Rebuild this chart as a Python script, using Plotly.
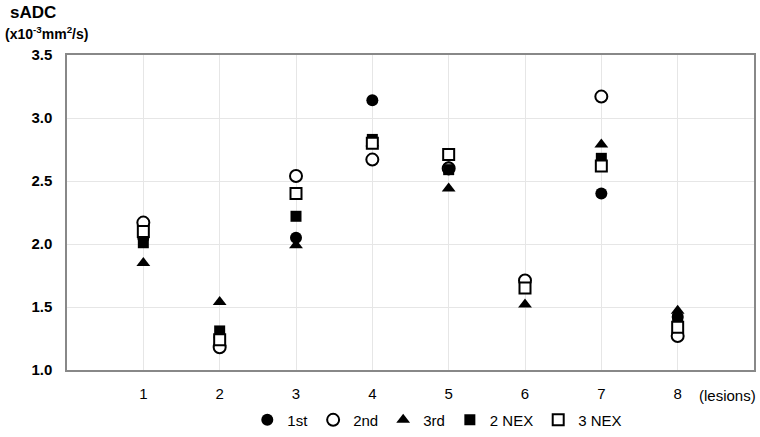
import plotly.graph_objects as go

lesions = [1, 2, 3, 4, 5, 6, 7, 8]
first = [2.05, 1.26, 2.05, 3.14, 2.61, 1.70, 2.40, 1.42]
second = [2.17, 1.18, 2.54, 2.67, 2.60, 1.71, 3.17, 1.27]
third = [1.85, 1.54, 1.99, 2.80, 2.44, 1.52, 2.79, 1.47]
nex2 = [2.01, 1.31, 2.22, 2.83, 2.59, 1.65, 2.68, 1.40]
nex3 = [2.10, 1.24, 2.40, 2.80, 2.71, 1.65, 2.62, 1.34]

series = [
    ("1st", first, "circle", "black", 12),
    ("2nd", second, "circle", "white", 12),
    ("3rd", third, "triangle-up", "black", 12),
    ("2 NEX", nex2, "square", "black", 11),
    ("3 NEX", nex3, "square", "white", 11),
]

fig = go.Figure()
for name, vals, sym, fill, sz in series:
    fig.add_trace(go.Scatter(
        x=lesions, y=vals, mode="markers", name=name,
        marker=dict(symbol=sym, size=sz, color=fill,
                    line=dict(color="black", width=2 if fill == "white" else 0)),
    ))

fig.update_layout(
    width=760, height=437,
    margin=dict(l=67, r=6, t=55, b=67, autoexpand=False),
    paper_bgcolor="white", plot_bgcolor="white",
    font=dict(family="Liberation Sans, Arial, sans-serif", color="black"),
    showlegend=True,
    legend=dict(orientation="h", x=0.539, xanchor="center", y=-0.159, yanchor="middle",
                font=dict(size=15), itemwidth=30, tracegroupgap=0),
    xaxis=dict(range=[0, 9], tickvals=lesions, ticktext=[str(v) for v in lesions],
               showgrid=True, gridcolor="#e6e6e6", gridwidth=1,
               showline=True, linecolor="#888888", linewidth=1.5, mirror=True,
               zeroline=False, ticks="", tickfont=dict(size=15), ticklabelstandoff=9),
    yaxis=dict(range=[1.0, 3.5], dtick=0.5, tickformat=".1f",
               showgrid=True, gridcolor="#e6e6e6", gridwidth=1,
               showline=True, linecolor="#888888", linewidth=1.5, mirror=True,
               zeroline=False, ticks="", ticklabelstandoff=10,
               tickfont=dict(size=15, family="Liberation Sans, Arial, sans-serif", weight="bold")),
    annotations=[
        dict(text="<b>sADC</b>", xref="paper", yref="paper", x=-0.0859, y=1.1365,
             xanchor="left", yanchor="middle", showarrow=False, font=dict(size=17)),
        dict(text="<b>(x10<sup>-3</sup>mm<sup>2</sup>/s)</b>", xref="paper", yref="paper",
             x=-0.093, y=1.07, xanchor="left", yanchor="middle", showarrow=False,
             font=dict(size=14)),
        dict(text="(lesions)", xref="paper", yref="paper", x=0.962, y=-0.081,
             xanchor="center", yanchor="middle", showarrow=False, font=dict(size=15)),
    ],
)

fig.write_html("out.html", config={"displayModeBar": False},
               post_script="document.body.style.margin='0px';")
